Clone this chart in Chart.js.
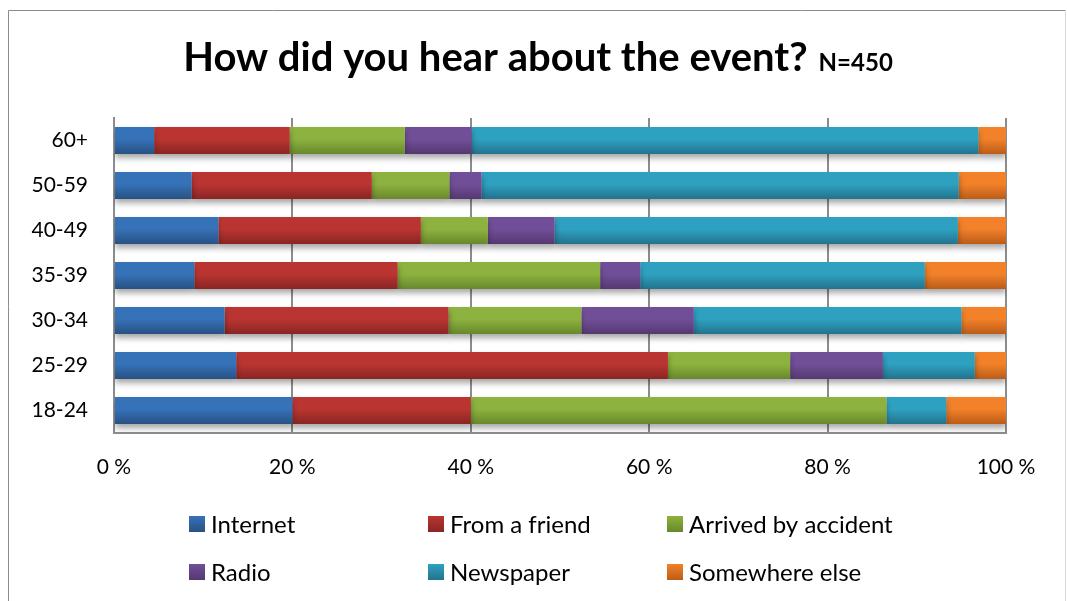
<!DOCTYPE html>
<html>
<head>
<meta charset="utf-8">
<script src="https://cdn.jsdelivr.net/npm/chart.js@4/dist/chart.umd.min.js"></script>
<style>
  body { margin: 0; background: #fff; }
  #wrap { width: 1067px; height: 601px; }
</style>
</head>
<body>
<div id="wrap"><canvas id="eventChart" width="1067" height="601"></canvas></div>
<script>
// age groups, top to bottom
const ageGroups = ['60+', '50-59', '40-49', '35-39', '30-34', '25-29', '18-24'];

// share of answers (%) per age group
const internet   = [4.5, 8.7, 11.7, 9.0, 12.4, 13.7, 20.0];
const fromFriend = [15.2, 20.2, 22.7, 22.8, 25.1, 48.4, 20.0];
const byAccident = [12.9, 8.7, 7.5, 22.7, 14.9, 13.7, 46.6];
const radio      = [7.5, 3.6, 7.5, 4.5, 12.6, 10.4, 0];
const newspaper  = [56.8, 53.5, 45.2, 31.9, 30.0, 10.3, 6.7];
const elsewhere  = [3.1, 5.3, 5.4, 9.1, 5.0, 3.5, 6.7];

const xTicks = [0, 20, 40, 60, 80, 100];

const titleText = 'How did you hear about the event?';
const subText = 'N=450';

// top / bottom colours of each bar gradient
const shades = {
  Internet: ['#3672b8', '#285183'],
  'From a friend': ['#ba3531', '#892523'],
  'Arrived by accident': ['#8db23f', '#68882b'],
  Radio: ['#714f98', '#553872'],
  Newspaper: ['#2ea1c1', '#22738d'],
  'Somewhere else': ['#f2812a', '#bb5c17']
};

const FONT = 'Lato, "Open Sans", sans-serif';
const BAR_FRACTION = 0.6;

function barGradient(c, name) {
  const chart = c.chart;
  const [top, bottom] = shades[name];
  const yScale = chart.scales.y;
  if (!yScale || c.dataIndex === undefined) return top;
  const y = yScale.getPixelForValue(c.dataIndex);
  const half = (yScale.height / ageGroups.length) * BAR_FRACTION / 2;
  if (!isFinite(y) || !isFinite(half) || half <= 0) return top;
  const g = chart.ctx.createLinearGradient(0, y - half, 0, y + half);
  g.addColorStop(0, top);
  g.addColorStop(0.45, top);
  g.addColorStop(1, bottom);
  return g;
}

function makeSet(name, values) {
  return {
    label: name,
    data: values,
    backgroundColor: c => barGradient(c, name),
    borderWidth: 0,
    barPercentage: 1,
    categoryPercentage: BAR_FRACTION
  };
}

// title, bar shadow, frame and the fixed 3-column legend
const decor = {
  id: 'decor',
  beforeDatasetsDraw(chart) {
    const ctx = chart.ctx;
    ctx.save();
    ctx.shadowColor = 'rgba(0,0,0,0.35)';
    ctx.shadowBlur = 6;
    ctx.shadowOffsetY = 4;
  },
  afterDatasetsDraw(chart) {
    chart.ctx.restore();
  },
  afterDraw(chart) {
    const ctx = chart.ctx;
    ctx.save();

    // frame
    ctx.strokeStyle = '#8c8c8c';
    ctx.lineWidth = 1;
    ctx.beginPath();
    ctx.moveTo(8.5, 620);
    ctx.lineTo(8.5, 10.5);
    ctx.lineTo(1065.5, 10.5);
    ctx.stroke();
    ctx.strokeStyle = '#d9d9d9';
    ctx.beginPath();
    ctx.moveTo(1065.5, 10.5);
    ctx.lineTo(1065.5, 620);
    ctx.stroke();

    // title
    ctx.fillStyle = '#000';
    ctx.textBaseline = 'alphabetic';
    ctx.textAlign = 'left';
    ctx.font = 'bold 40px ' + FONT;
    const w1 = ctx.measureText(titleText).width;
    ctx.font = 'bold 24px ' + FONT;
    const w2 = ctx.measureText(subText).width;
    const gap = 11;
    const x0 = 538 - (w1 + gap + w2) / 2;
    ctx.font = 'bold 40px ' + FONT;
    ctx.fillText(titleText, x0, 71);
    ctx.font = 'bold 24px ' + FONT;
    ctx.fillText(subText, x0 + w1 + gap, 71);

    // legend
    const cols = [189, 428, 667];
    const rows = [524, 572];
    ctx.font = '24px ' + FONT;
    ctx.textBaseline = 'middle';
    chart.data.datasets.forEach((ds, i) => {
      const x = cols[i % 3];
      const y = rows[Math.floor(i / 3)];
      const [top, bottom] = shades[ds.label];
      const g = ctx.createLinearGradient(0, y - 8, 0, y + 8);
      g.addColorStop(0, top);
      g.addColorStop(1, bottom);
      ctx.fillStyle = g;
      ctx.fillRect(x, y - 8, 16, 16);
      ctx.fillStyle = '#000';
      ctx.fillText(ds.label, x + 22, y + 1);
    });
    ctx.restore();
  }
};

new Chart(document.getElementById('eventChart'), {
  type: 'bar',
  data: {
    labels: ageGroups,
    datasets: [
      makeSet('Internet', internet),
      makeSet('From a friend', fromFriend),
      makeSet('Arrived by accident', byAccident),
      makeSet('Radio', radio),
      makeSet('Newspaper', newspaper),
      makeSet('Somewhere else', elsewhere)
    ]
  },
  options: {
    indexAxis: 'y',
    responsive: false,
    animation: false,
    layout: {
      padding: { left: 0, right: 61, top: 118, bottom: 118 }
    },
    plugins: {
      legend: { display: false },
      title: { display: false },
      tooltip: { enabled: false }
    },
    scales: {
      x: {
        stacked: true,
        min: 0,
        max: 100,
        afterBuildTicks: scale => {
          scale.ticks = xTicks.map(v => ({ value: v }));
        },
        afterFit: scale => { scale.height = 50; },
        grid: {
          color: '#8c8c8c',
          lineWidth: 2,
          drawTicks: false
        },
        border: { color: '#8c8c8c', width: 2 },
        ticks: {
          padding: 22,
          color: '#000',
          font: { family: FONT, size: 21 },
          callback: v => v + ' %'
        }
      },
      y: {
        stacked: true,
        afterFit: scale => { scale.width = 114; },
        grid: { display: false, drawTicks: false },
        border: { color: '#8c8c8c', width: 2 },
        ticks: {
          padding: 26,
          color: '#000',
          font: { family: FONT, size: 21 }
        }
      }
    }
  },
  plugins: [decor]
});
</script>
</body>
</html>
